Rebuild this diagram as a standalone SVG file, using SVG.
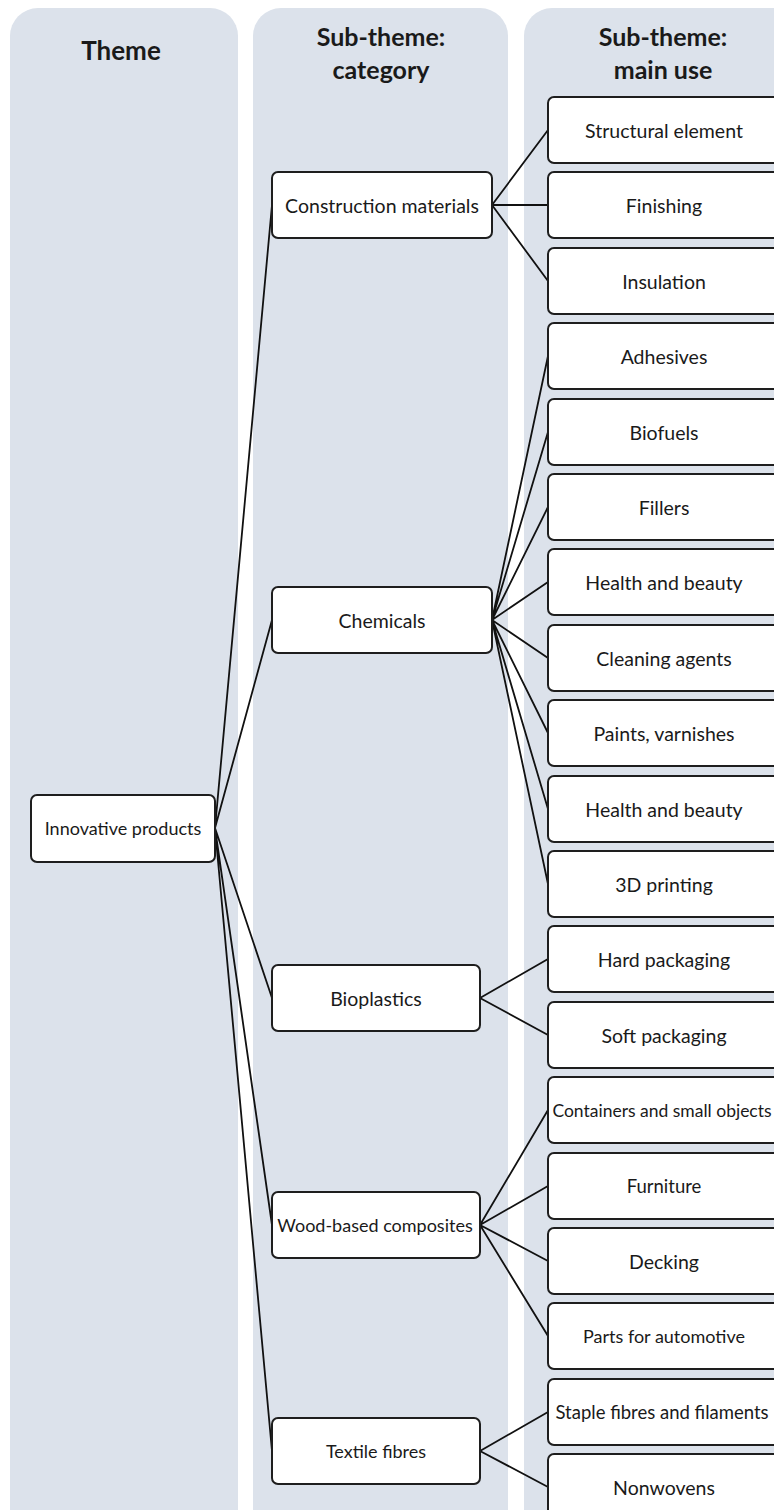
<svg xmlns="http://www.w3.org/2000/svg" width="774" height="1510" viewBox="0 0 774 1510">
<style>
.lane{fill:#dce2eb}
.hdr{font-family:Lato,"Open Sans",sans-serif;font-weight:bold;font-size:25px;fill:#1a1a1a;text-anchor:middle}
.box{fill:#ffffff;stroke:#1e1e1e;stroke-width:2}
.lbl{font-family:Lato,"Open Sans",sans-serif;font-size:19.5px;fill:#1a1a1a;text-anchor:middle;dominant-baseline:central}
.sm{font-size:18px}
.con{stroke:#111;stroke-width:1.8;fill:none}
</style>
<rect width="774" height="1510" fill="#ffffff"/>
<g id="lanes">
<rect class="lane" x="10" y="8" width="228" height="1530" rx="28"/>
<rect class="lane" x="253" y="8" width="255" height="1530" rx="28"/>
<rect class="lane" x="524" y="8" width="290" height="1530" rx="28"/>
<text class="hdr" x="121" y="60" style="font-size:26px">Theme</text>
<text class="hdr" x="381" y="46">Sub-theme:</text>
<text class="hdr" x="381" y="79">category</text>
<text class="hdr" x="663" y="46">Sub-theme:</text>
<text class="hdr" x="663" y="79">main use</text>
</g>
<g id="connectors">
<path class="con" d="M215,828 L272,205 M215,828 L272,620 M215,828 L272,998 M215,828 L272,1225 M215,828 L272,1451"/>
<path class="con" d="M492,205 L548,130 M492,205 L548,205 M492,205 L548,281"/>
<path class="con" d="M492,620 L548,356 M492,620 L548,432 M492,620 L548,507 M492,620 L548,582 M492,620 L548,658 M492,620 L548,733 M492,620 L548,809 M492,620 L548,884"/>
<path class="con" d="M480,998 L548,959 M480,998 L548,1035"/>
<path class="con" d="M480,1225 L548,1110 M480,1225 L548,1186 M480,1225 L548,1261 M480,1225 L548,1336"/>
<path class="con" d="M480,1451 L548,1412 M480,1451 L548,1487"/>
</g>
<g id="n-innovative"><rect class="box" x="31" y="795" width="184" height="67" rx="6"/><text class="lbl sm" x="123" y="828">Innovative products</text></g>
<g id="n-construction"><rect class="box" x="272" y="172" width="220" height="66" rx="6"/><text class="lbl" x="382" y="205">Construction materials</text></g>
<g id="n-chemicals"><rect class="box" x="272" y="587" width="220" height="66" rx="6"/><text class="lbl" x="382" y="620">Chemicals</text></g>
<g id="n-bioplastics"><rect class="box" x="272" y="965" width="208" height="66" rx="6"/><text class="lbl" x="376" y="998">Bioplastics</text></g>
<g id="n-wood"><rect class="box" x="272" y="1192" width="208" height="66" rx="6"/><text class="lbl sm" x="375" y="1225">Wood-based composites</text></g>
<g id="n-textile"><rect class="box" x="272" y="1418" width="208" height="66" rx="6"/><text class="lbl sm" x="376" y="1451">Textile fibres</text></g>
<g id="u-structural"><rect class="box" x="548" y="97" width="234" height="66" rx="6"/><text class="lbl" x="664" y="130">Structural element</text></g>
<g id="u-finishing"><rect class="box" x="548" y="172" width="234" height="66" rx="6"/><text class="lbl" x="664" y="205">Finishing</text></g>
<g id="u-insulation"><rect class="box" x="548" y="248" width="234" height="66" rx="6"/><text class="lbl" x="664" y="281">Insulation</text></g>
<g id="u-adhesives"><rect class="box" x="548" y="323" width="234" height="66" rx="6"/><text class="lbl" x="664" y="356">Adhesives</text></g>
<g id="u-biofuels"><rect class="box" x="548" y="399" width="234" height="66" rx="6"/><text class="lbl" x="664" y="432">Biofuels</text></g>
<g id="u-fillers"><rect class="box" x="548" y="474" width="234" height="66" rx="6"/><text class="lbl" x="664" y="507">Fillers</text></g>
<g id="u-health1"><rect class="box" x="548" y="549" width="234" height="66" rx="6"/><text class="lbl" x="664" y="582">Health and beauty</text></g>
<g id="u-cleaning"><rect class="box" x="548" y="625" width="234" height="66" rx="6"/><text class="lbl" x="664" y="658">Cleaning agents</text></g>
<g id="u-paints"><rect class="box" x="548" y="700" width="234" height="66" rx="6"/><text class="lbl" x="664" y="733">Paints, varnishes</text></g>
<g id="u-health2"><rect class="box" x="548" y="776" width="234" height="66" rx="6"/><text class="lbl" x="664" y="809">Health and beauty</text></g>
<g id="u-3d"><rect class="box" x="548" y="851" width="234" height="66" rx="6"/><text class="lbl" x="664" y="884">3D printing</text></g>
<g id="u-hard"><rect class="box" x="548" y="926" width="234" height="66" rx="6"/><text class="lbl" x="664" y="959">Hard packaging</text></g>
<g id="u-soft"><rect class="box" x="548" y="1002" width="234" height="66" rx="6"/><text class="lbl" x="664" y="1035">Soft packaging</text></g>
<g id="u-containers"><rect class="box" x="548" y="1077" width="234" height="66" rx="6"/><text class="lbl" x="662" y="1110" style="font-size:17.5px">Containers and small objects</text></g>
<g id="u-furniture"><rect class="box" x="548" y="1153" width="234" height="66" rx="6"/><text class="lbl" x="664" y="1186" style="font-size:18.5px">Furniture</text></g>
<g id="u-decking"><rect class="box" x="548" y="1228" width="234" height="66" rx="6"/><text class="lbl" x="664" y="1261">Decking</text></g>
<g id="u-parts"><rect class="box" x="548" y="1303" width="234" height="66" rx="6"/><text class="lbl sm" x="664" y="1336">Parts for automotive</text></g>
<g id="u-staple"><rect class="box" x="548" y="1379" width="234" height="66" rx="6"/><text class="lbl" x="662" y="1412" style="font-size:18.5px">Staple fibres and filaments</text></g>
<g id="u-nonwovens"><rect class="box" x="548" y="1454" width="234" height="66" rx="6"/><text class="lbl" x="664" y="1487">Nonwovens</text></g>
</svg>
